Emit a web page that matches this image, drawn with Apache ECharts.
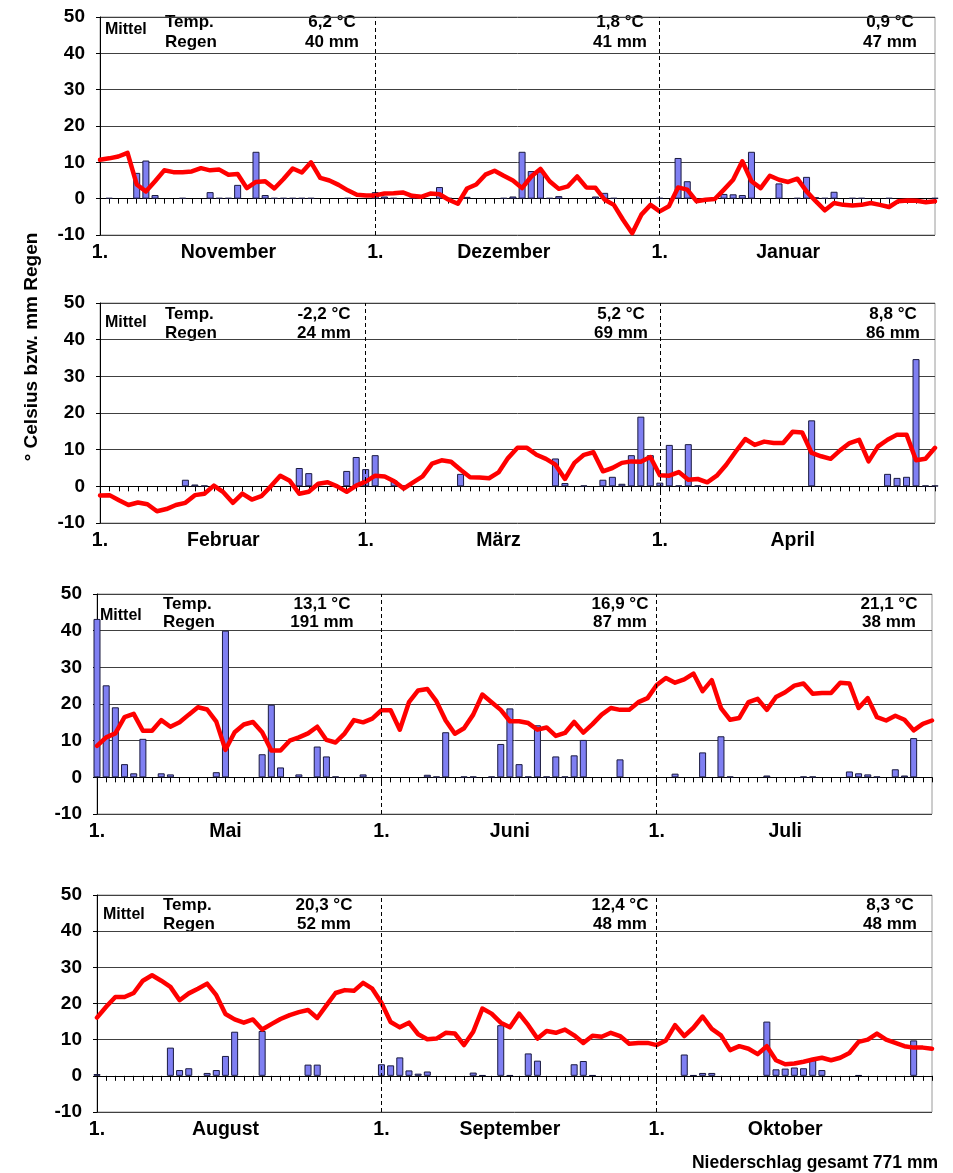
<!DOCTYPE html>
<html><head><meta charset="utf-8">
<script src="https://cdn.jsdelivr.net/npm/echarts@6/dist/echarts.min.js"></script>
<style>html,body{margin:0;padding:0;background:#fff}#c{width:953px;height:1173px}</style>
</head><body><div id="c"></div>
<script>
const monthNames = ['November','Dezember','Januar','Februar','März','April','Mai','Juni','Juli','August','September','Oktober'];
const monthDays = [30,31,31,28,31,30,31,30,31,31,30,31];

const tempNov = [10.7,11.1,11.6,12.6,3.9,2.0,4.8,7.8,7.3,7.3, 7.5,8.4,7.8,8.0,6.6,6.8,2.9,4.6,4.8,2.8, 5.4,8.3,7.2,10.0,5.7,5.0,3.8,2.3,1.1,0.9];
const rainNov = [0,0.2,0,0,7.1,10.5,1.0,0,0,0.2, 0,0,1.8,0.2,0.2,3.8,0,12.9,1.0,0.2, 0.2,0.2,0.2,0.2,0,0,0,0.2,0,0];
const tempDec = [0.9,1.4,1.5,1.7,0.8,0.5,1.4,1.2,-0.3,-1.4, 2.8,3.9,6.6,7.7,6.3,5.0,2.9,6.1,8.2,4.8, 2.7,3.4,6.1,3.1,3.0,-0.3,-1.7,-5.8,-9.5,-4.4, -1.7];
const rainDec = [1.8,0.6,0.2,0,0.2,0,0,3.2,0.2,0, 0.5,0,0,0,0.2,0.6,12.9,7.6,7.5,0.2, 0.7,0,0,0,0.6,1.6,0.2,0,0,0, 0];
const tempJan = [-3.5,-2.1,3.1,2.5,-0.7,-0.3,-0.1,2.5,5.2,10.3, 4.8,2.9,6.3,5.2,4.6,5.5,2.0,-0.7,-3.2,-1.2, -1.7,-1.9,-1.7,-1.2,-1.7,-2.3,-0.7,-0.5,-0.6,-1.0, -0.7];
const rainJan = [0.2,0,11.2,4.8,0,0,0,1.3,1.2,1.0, 12.9,0,0,4.2,0,0.2,6.0,0.4,0.2,1.9, 0,0.2,0.2,0,0,0.2,0,0,0,0, 0.2];
const tempFeb = [-2.5,-2.4,-3.8,-5.1,-4.4,-4.9,-6.8,-6.2,-5.1,-4.5, -2.4,-2.0,0.2,-1.6,-4.5,-2.0,-3.6,-2.7,0.0,2.9, 1.5,-2.0,-1.5,0.7,1.1,0.0,-1.5,0.2];
const rainFeb = [0,0,0,0,0,0,0,0,0,1.8, 0.5,0.2,0,0,0,0,0,0,0,0, 0,5.0,3.6,0,0,0,4.2,8.0];
const tempMar = [1.3,2.9,2.7,1.4,-0.6,1.1,2.7,6.2,7.1,6.7, 4.5,2.5,2.4,2.2,3.8,7.7,10.5,10.5,8.6,7.5, 5.9,2.0,6.4,8.6,9.3,4.1,5.0,6.4,6.8,6.7, 8.0];
const rainMar = [4.7,8.5,0,1.6,0.2,0,0,0,0,0, 3.4,0,0,0,0,0,0,0,0,0, 7.6,0.9,0,0.2,0,1.8,2.6,0.7,8.5,19.0, 8.5];
const tempApr = [3.0,2.9,3.9,1.8,2.0,1.1,2.9,5.9,9.5,12.9, 11.3,12.2,11.8,11.8,14.9,14.7,9.1,8.2,7.5,9.8, 11.8,12.7,6.8,10.9,12.7,14.1,14.1,7.1,7.5,10.5];
const rainApr = [1.0,11.3,0.2,11.5,0.2,0,0,0,0,0, 0,0,0,0,0,0,18.0,0,0,0, 0,0,0,0,3.4,2.3,2.6,34.7,0.2,0.2];
const tempMay = [8.6,10.9,12.0,16.4,17.3,12.7,12.7,15.6,13.8,15.0, 17.1,19.1,18.5,15.2,7.5,12.3,14.4,15.1,12.3,7.3, 7.3,10.0,10.9,12.0,13.8,10.2,9.5,12.0,15.6,15.0, 16.0];
const rainMay = [43.2,25.1,19.1,3.6,1.1,10.5,0,1.1,0.8,0, 0,0,0,1.4,40.0,0,0,0,6.3,19.8, 2.7,0,0.8,0,8.4,5.7,0.2,0,0,0.8, 0];
const tempJun = [18.3,18.3,13.0,20.5,23.7,24.1,20.7,15.5,11.9,13.4, 17.1,22.6,20.5,18.4,15.3,15.3,14.8,13.0,13.6,11.3, 12.1,15.1,12.2,14.5,17.1,18.9,18.4,18.4,20.5,21.6];
const rainJun = [0,0,0,0,0,0.7,0.2,12.3,0,0.2, 0.2,0,0.2,9.1,18.8,3.6,0.2,14.2,0.2,5.7, 0.2,6.0,10.2,0,0,0,4.9,0,0,0];
const tempJul = [25.2,27.1,25.8,26.7,28.3,23.5,26.5,18.9,15.7,16.2, 20.5,21.4,18.4,21.9,23.2,25.0,25.6,22.8,23.0,23.0, 25.8,25.6,18.9,21.6,16.4,15.5,16.8,15.7,12.8,14.6, 15.5];
const rainJul = [0,0,1.0,0,0,6.8,0,11.2,0.2,0, 0,0,0.5,0,0,0,0.2,0.2,0,0, 0,1.6,1.1,0.8,0.2,0,2.2,0.5,10.7,0, 0];
const tempAug = [16.1,19.1,21.8,21.8,22.9,26.3,27.8,26.3,24.6,20.9, 22.8,24.1,25.5,22.3,17.1,15.6,14.7,15.6,12.8,14.3, 15.7,16.8,17.6,18.2,16.0,19.5,22.9,23.7,23.5,25.7, 24.1];
const rainAug = [0.5,0,0,0,0,0,0,0,7.8,1.6, 2.1,0,0.8,1.6,5.5,12.2,0,0,12.4,0, 0,0,0,3.1,3.1,0,0,0,0,0, 0];
const tempSep = [20.2,14.9,13.4,14.7,11.5,10.1,10.3,11.9,11.7,8.5, 12.2,18.6,17.2,14.7,13.4,17.2,14.0,10.3,12.4,11.9, 12.8,11.2,9.1,11.1,10.8,11.9,11.0,8.9,9.1,9.1];
const rainSep = [3.2,2.9,5.1,1.5,0.6,1.2,0,0,0,0, 0.9,0.2,0,14.0,0.2,0,6.2,4.2,0,0, 0,3.2,4.1,0.2,0,0,0,0,0,0];
const tempOct = [8.5,9.8,14.0,11.0,13.3,16.4,13.0,11.2,7.1,8.2, 7.5,6.0,8.2,4.3,3.2,3.4,3.9,4.5,5.0,4.3, 5.0,6.3,9.4,10.0,11.7,10.0,9.1,8.2,7.8,7.8, 7.5];
const rainOct = [0,0,0,5.9,0.2,0.8,0.8,0,0,0, 0,0,15.0,1.8,2.0,2.3,2.1,4.3,1.6,0, 0,0,0.2,0,0,0,0,0,9.8,0, 0];

const meanTempText = ['6,2 °C','1,8 °C','0,9 °C','-2,2 °C','5,2 °C','8,8 °C','13,1 °C','16,9 °C','21,1 °C','20,3 °C','12,4 °C','8,3 °C'];
const rainTotalText = ['40 mm','41 mm','47 mm','24 mm','69 mm','86 mm','191 mm','87 mm','38 mm','52 mm','48 mm','48 mm'];
const yTicks = [-10, 50, 10];
const yTitle = '° Celsius bzw. mm Regen';
const footer = 'Niederschlag gesamt 771 mm';

const temps = [tempNov,tempDec,tempJan,tempFeb,tempMar,tempApr,tempMay,tempJun,tempJul,tempAug,tempSep,tempOct];
const rains = [rainNov,rainDec,rainJan,rainFeb,rainMar,rainApr,rainMay,rainJun,rainJul,rainAug,rainSep,rainOct];
const panels = [[0,1,2],[3,4,5],[6,7,8],[9,10,11]];

// layout
const gridBoxes = [
  {left:100, top:17, width:835, height:218},
  {left:100, top:303, width:835, height:220},
  {left:97, top:594, width:835, height:220},
  {left:97, top:895, width:835, height:217}
];
const headY = [[22,42],[314,333],[604,622],[905,924]];
const mittelPos = [[105,30],[105,323],[100,616],[103,915]];
const labelX = [165,165,163,163];
const valX = [[332,620,890],[324,621,893],[322,620,889],[324,620,890]];

const font = '"Liberation Sans", Arial, sans-serif';
const grid=[], xAxis=[], yAxis=[], series=[], graphic=[];

panels.forEach((ms, p) => {
  const cats=[], temp=[], rain=[], starts=[], labels={};
  ms.forEach(m => {
    const s = cats.length; starts.push(s);
    labels[s] = '1.';
    labels[s + (monthDays[m] >= 30 ? 14 : 13)] = monthNames[m];
    for (let d=1; d<=monthDays[m]; d++) cats.push(monthNames[m]+' '+d);
    temps[m].forEach(v=>temp.push(v));
    rains[m].forEach(v=>rain.push(v>0?v:'-'));
  });
  grid.push(Object.assign({show:true, borderColor:'#9a9a9a', borderWidth:1}, gridBoxes[p]));
  xAxis.push({gridIndex:p, type:'category', data:cats, boundaryGap:false,
    axisLine:{onZero:true, lineStyle:{color:'#000', width:1}},
    axisTick:{show:true, interval:0, length:5, lineStyle:{color:'#000'}},
    axisLabel:{show:false}, splitLine:{show:false}});
  xAxis.push({gridIndex:p, type:'category', data:cats, boundaryGap:false, position:'bottom',
    axisLine:{show:false, onZero:false}, axisTick:{show:false},
    axisLabel:{interval:0, margin:8, color:'#000', fontFamily:font, fontWeight:'bold', fontSize:19.5,
      formatter:(v,i)=>labels[i]||''},
    splitLine:{show:false}});
  yAxis.push({gridIndex:p, type:'value', min:yTicks[0], max:yTicks[1], interval:yTicks[2],
    axisLine:{show:true, lineStyle:{color:'#000'}},
    axisTick:{show:true, length:4, lineStyle:{color:'#000'}},
    axisLabel:{margin:15, color:'#000', fontFamily:font, fontWeight:'bold', fontSize:19},
    splitLine:{show:true, lineStyle:{color:'#404040', width:1}}});
  series.push({type:'bar', xAxisIndex:2*p, yAxisIndex:p, data:rain, barWidth:7, z:2,
    itemStyle:{color:'#7f7ff2', borderColor:'#1a1a40', borderWidth:1},
    markLine:{silent:true, symbol:'none', label:{show:false},
      lineStyle:{type:[4,3], color:'#000', width:1},
      data:[{xAxis:cats[starts[1]]},{xAxis:cats[starts[2]]}]}});
  series.push({type:'line', xAxisIndex:2*p, yAxisIndex:p, data:temp, symbol:'none', z:3,
    lineStyle:{color:'#ff0000', width:4.5, join:'round', cap:'round'}});

  const tstyle = (t, align, size) => ({text:t, font:'bold '+size+'px '+font, fill:'#000', textAlign:align, textVerticalAlign:'middle'});
  graphic.push({type:'text', x:mittelPos[p][0], y:mittelPos[p][1], style:tstyle('Mittel','left',16)});
  graphic.push({type:'text', x:labelX[p], y:headY[p][0], style:tstyle('Temp.','left',17)});
  graphic.push({type:'text', x:labelX[p], y:headY[p][1], style:tstyle('Regen','left',17)});
  ms.forEach((m, j) => {
    graphic.push({type:'text', x:valX[p][j], y:headY[p][0], style:tstyle(meanTempText[m],'center',17)});
    graphic.push({type:'text', x:valX[p][j], y:headY[p][1], style:tstyle(rainTotalText[m],'center',17)});
  });
});

graphic.push({type:'text', x:32, y:347, rotation:Math.PI/2,
  style:{text:yTitle, font:'bold 19px '+font, fill:'#000', textAlign:'center', textVerticalAlign:'middle'}});
graphic.push({type:'text', x:938, y:1163,
  style:{text:footer, font:'bold 17.5px '+font, fill:'#000', textAlign:'right', textVerticalAlign:'middle'}});

const chart = echarts.init(document.getElementById('c'), null, {renderer:'canvas'});
chart.setOption({backgroundColor:'#fff', animation:false, grid, xAxis, yAxis, series, graphic});
</script>
</body></html>
